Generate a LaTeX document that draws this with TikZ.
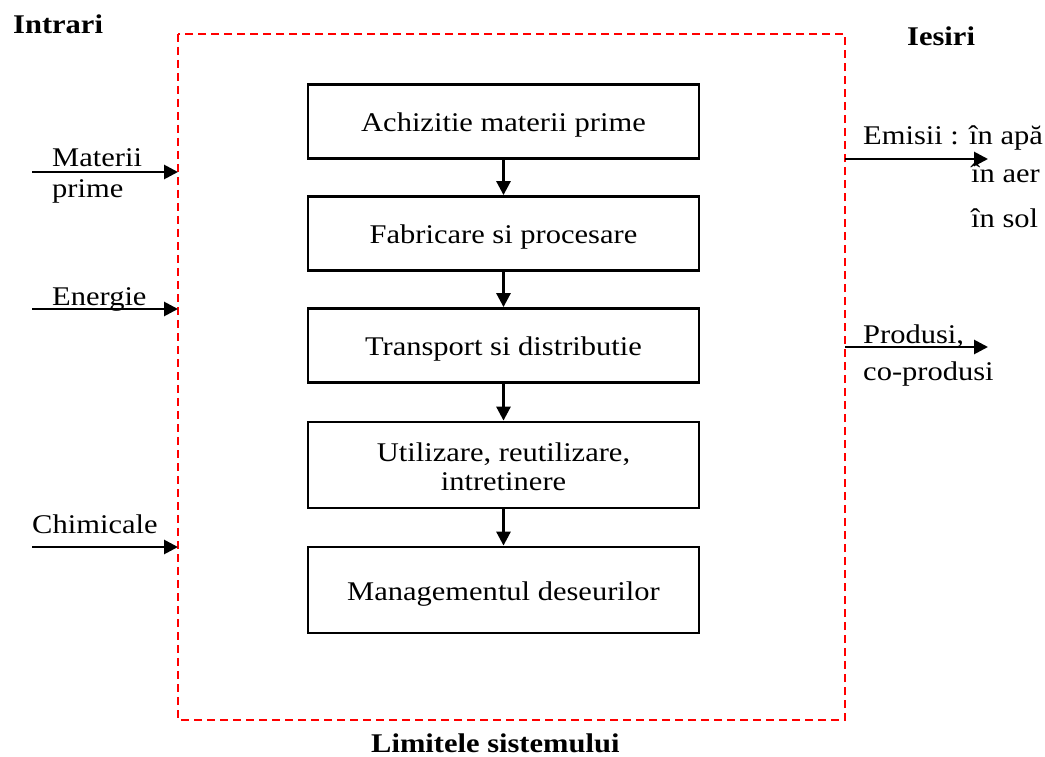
\documentclass[tikz,border=0pt]{standalone}
\usepackage{fontspec}
\setmainfont{Liberation Serif}[FakeStretch=1.13]
\usetikzlibrary{arrows.meta}
% set a box caption with its baseline the given distance below the box centre
\newcommand\lowered[2]{\raisebox{-#1}[0pt][0pt]{#2}}
\begin{document}
\begin{tikzpicture}[x=1pt,y=-1pt,
  every node/.style={font=\fontsize{27}{29}\selectfont},
  stage/.style={draw=black,line width=2.8pt,minimum width=391pt,minimum height=74pt,inner sep=0pt},
  flow/.style={line width=2.8pt,-{Triangle[length=14pt,width=14pt]}},
  lbl/.style={anchor=base west,inner sep=0pt},
  head/.style={anchor=base west,inner sep=0pt,font=\fontsize{27}{29}\selectfont\bfseries},
  boundary/.style={draw=red,line width=2.2pt,dash pattern=on 8pt off 5pt}]
\useasboundingbox (0,0) rectangle (1045,757);
% system boundary
\draw[boundary] (178,34) rectangle (845,720);
% life-cycle stages
\node[stage] (s1) at (503.5,121.5) {\lowered{10pt}{Achizitie materii prime}};
\node[stage] (s2) at (503.5,233.5) {\lowered{10pt}{Fabricare si procesare}};
\node[stage] (s3) at (503.5,345.5) {\lowered{10pt}{Transport si distributie}};
\node[stage,minimum height=86pt] (s4) at (503.5,465) {\lowered{25pt}{\begin{tabular}[b]{@{}c@{}}Utilizare, reutilizare,\\ intretinere\end{tabular}}};
\node[stage,minimum height=86pt] (s5) at (503.5,590) {\lowered{10pt}{Managementul deseurilor}};
\draw[flow] (s1) -- (s2);
\draw[flow] (s2) -- (s3);
\draw[flow] (s3) -- (s4);
\draw[flow] (s4) -- (s5);
% inputs
\coordinate (i1s) at (32,172); \coordinate (i1e) at (178,172);
\coordinate (i2s) at (32,309); \coordinate (i2e) at (178,309);
\coordinate (i3s) at (32,547); \coordinate (i3e) at (178,547);
\draw[flow] (i1s) -- (i1e);
\draw[flow] (i2s) -- (i2e);
\draw[flow] (i3s) -- (i3e);
\node[head] (hin) at (13,34) {Intrari};
\node[lbl] (m1) at (52,167) {Materii};
\node[lbl] (m2) at (52,198) {prime};
\node[lbl] (en) at (52,305) {Energie};
\node[lbl] (ch) at (32,533) {Chimicale};
% outputs
\coordinate (o1s) at (845,159); \coordinate (o1e) at (988,159);
\coordinate (o2s) at (845,347); \coordinate (o2e) at (988,347);
\draw[flow] (o1s) -- (o1e);
\draw[flow] (o2s) -- (o2e);
\node[head] (hout) at (907,46) {Iesiri};
\node[lbl] (e1) at (863,145) {Emisii : în apă};
\node[lbl] (e2) at (971,183) {în aer};
\node[lbl] (e3) at (971,227) {în sol};
\node[lbl] (p1) at (863,343) {Produsi,};
\node[lbl] (p2) at (863,380) {co-produsi};
% boundary caption
\node[head] (lim) at (371,752) {Limitele sistemului};
\end{tikzpicture}
\end{document}
